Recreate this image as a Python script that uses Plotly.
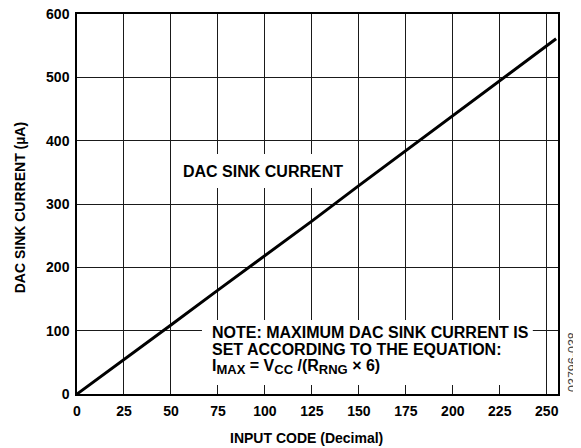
import plotly.graph_objects as go

codes = [0, 25, 50, 75, 100, 125, 150, 175, 200, 225, 255]
sink_current = [0, 54, 109, 164, 218, 273, 329, 384, 439, 494, 561]
x_ticks = [0, 25, 50, 75, 100, 125, 150, 175, 200, 225, 250]
y_ticks = [0, 100, 200, 300, 400, 500, 600]
note_lines = [
    "NOTE: MAXIMUM DAC SINK CURRENT IS",
    "SET ACCORDING TO THE EQUATION:",
    "I<sub><span style='font-size:13px'>MAX</span></sub> = V<sub><span style='font-size:13px'>CC</span></sub>"
    " /(R<sub><span style='font-size:13px'>RNG</span></sub> × 6)",
]

font = "Liberation Sans, Arial, sans-serif"

fig = go.Figure()
fig.add_trace(go.Scatter(x=codes, y=sink_current, mode="lines",
                         line=dict(color="black", width=3), showlegend=False))

axis_common = dict(showgrid=True, gridcolor="#1a1a1a", gridwidth=1, zeroline=False,
                   showline=True, linecolor="black", linewidth=1.5, mirror=True,
                   ticks="", automargin=False, ticklabelstandoff=3,
                   ticklabeloverflow="allow",
                   tickfont=dict(size=14, family=font, weight="bold"))

# page body has an 8px default margin, so the figure is sized to fit the window
fig.update_layout(
    width=573, height=440,
    margin=dict(l=69, r=23, t=6, b=54),
    paper_bgcolor="white", plot_bgcolor="white",
    font=dict(family=font, color="black", size=14),
    xaxis=dict(range=[0, 256], tickvals=x_ticks, **axis_common),
    yaxis=dict(range=[0, 600], tickvals=y_ticks, **axis_common),
)

# white backing boxes that interrupt the grid behind the labels
fig.add_shape(type="rect", xref="x", yref="y", x0=54.8, x1=145.2, y0=325.3, y1=378.9,
              fillcolor="white", line=dict(width=0), layer="between")
fig.add_shape(type="rect", xref="x", yref="y", x0=66.5, x1=242.6, y0=14.2, y1=116.8,
              fillcolor="white", line=dict(width=0), layer="between")

fig.add_annotation(x=0.477, y=-0.1145, xref="paper", yref="paper",
                   text="<b>INPUT CODE (Decimal)</b>", showarrow=False,
                   font=dict(size=14), xanchor="center", yanchor="middle")
fig.add_annotation(x=-0.1195, y=0.49, xref="paper", yref="paper",
                   text="<b>DAC SINK CURRENT (µA)</b>", showarrow=False, textangle=-90,
                   font=dict(size=14), xanchor="center", yanchor="middle")

fig.add_annotation(x=99.2, y=352, xref="x", yref="y", text="<b>DAC SINK CURRENT</b>",
                   showarrow=False, font=dict(size=16), borderpad=0)

note_y = [97.5, 70.5, 42]
for txt, yy in zip(note_lines, note_y):
    fig.add_annotation(x=71.2, y=yy, xref="x", yref="y", xanchor="left", yanchor="middle",
                       align="left", text="<b>" + txt + "</b>", showarrow=False,
                       font=dict(size=16), borderpad=0)

fig.add_annotation(x=1.031, y=0.084, xref="paper", yref="paper", text="03796-038",
                   showarrow=False, textangle=-90, xanchor="center", yanchor="middle",
                   font=dict(size=12.5, color="#444"))

fig.write_html("out.html")
